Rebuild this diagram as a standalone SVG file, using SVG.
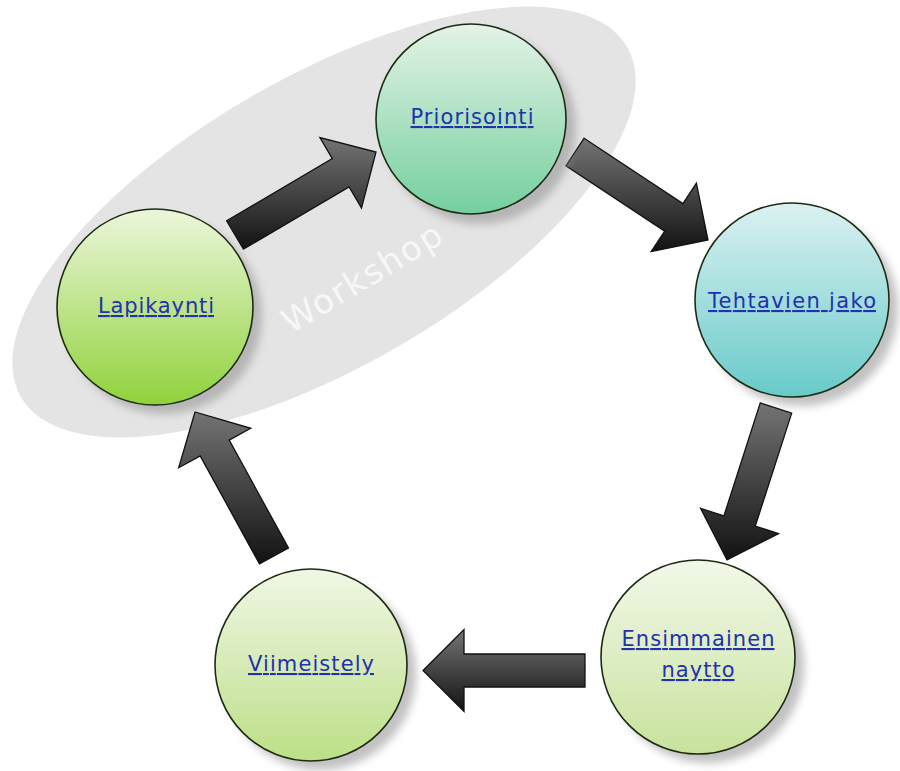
<svg xmlns="http://www.w3.org/2000/svg" width="900" height="771" viewBox="0 0 900 771">
<defs>
<style>
.node{stroke:#1d2a12;stroke-width:1.6}
.lbl{font-family:"DejaVu Sans","Liberation Sans",sans-serif;font-size:21px;fill:#2232ad;text-decoration:underline;text-anchor:middle}
.arrow{fill:url(#ga);stroke:#111;stroke-width:1.3;stroke-linejoin:miter}
.shadow{fill:#8f8f8f;opacity:0.55;filter:url(#blur)}
</style>
<filter id="blur" x="-20%" y="-20%" width="140%" height="140%"><feGaussianBlur stdDeviation="4.5"/></filter>
<linearGradient id="ga" x1="0" y1="0" x2="0" y2="1"><stop offset="0" stop-color="#747474"/><stop offset="1" stop-color="#121212"/></linearGradient>
<linearGradient id="g1" x1="0" y1="0" x2="0" y2="1"><stop offset="0" stop-color="#e4f3e6"/><stop offset="1" stop-color="#74cf9e"/></linearGradient>
<linearGradient id="g2" x1="0" y1="0" x2="0" y2="1"><stop offset="0" stop-color="#dcf1f1"/><stop offset="1" stop-color="#68caca"/></linearGradient>
<linearGradient id="g3" x1="0" y1="0" x2="0" y2="1"><stop offset="0" stop-color="#ecf6dc"/><stop offset="1" stop-color="#8fd23a"/></linearGradient>
<linearGradient id="g4" x1="0" y1="0" x2="0" y2="1"><stop offset="0" stop-color="#f0f7e6"/><stop offset="1" stop-color="#bcdf86"/></linearGradient>
<linearGradient id="g5" x1="0" y1="0" x2="0" y2="1"><stop offset="0" stop-color="#f2f8ea"/><stop offset="1" stop-color="#c8e29c"/></linearGradient>
</defs>
<rect width="900" height="771" fill="#ffffff"/>
<g id="workshop">
<ellipse cx="324" cy="222" rx="350" ry="145" transform="rotate(-30 324 222)" fill="#e4e4e4"/>
<text transform="translate(368 288) rotate(-31)" x="0" y="0" font-family="DejaVu Sans,Liberation Sans,sans-serif" font-size="34" fill="#f7f7f7" text-anchor="middle" textLength="180" lengthAdjust="spacing">Workshop</text>
</g>
<g id="connectors">
<polygon class="arrow" points="226.6,220.8 332.3,158.6 319.9,137.5 376,152 361.5,208.1 349.1,187.0 243.4,249.2"/>
<polygon class="arrow" points="584.1,138.2 682.9,203.6 696.4,183.2 708,240 651.2,251.6 664.7,231.2 565.9,165.8"/>
<polygon class="arrow" points="791.7,413.1 755.3,526.1 778.6,533.6 727,560 700.6,508.4 723.9,515.9 760.3,402.9"/>
<polygon class="arrow" points="585,654 464,654 464,629.5 423,670.5 464,711.5 464,687 585,687"/>
<polygon class="arrow" points="259.5,563.9 200.2,455.9 178.7,467.7 195,412 250.7,428.3 229.2,440.1 288.5,548.1"/>
</g>
<g id="priorisointi">
<circle class="shadow" cx="480" cy="128" r="96"/>
<circle class="node" cx="471" cy="119" r="95" fill="url(#g1)"/>
<text class="lbl" x="472" y="124" textLength="123" lengthAdjust="spacing">Priorisointi</text>
</g>
<g id="tehtavien">
<circle class="shadow" cx="801" cy="309" r="97"/>
<circle class="node" cx="792" cy="300" r="97" fill="url(#g2)"/>
<text class="lbl" x="792" y="308" textLength="168" lengthAdjust="spacing">Tehtavien jako</text>
</g>
<g id="lapikaynti">
<circle class="shadow" cx="164" cy="316" r="98"/>
<circle class="node" cx="155" cy="307" r="98" fill="url(#g3)"/>
<text class="lbl" x="156" y="313" textLength="116" lengthAdjust="spacing">Lapikaynti</text>
</g>
<g id="viimeistely">
<circle class="shadow" cx="320" cy="674" r="96"/>
<circle class="node" cx="311" cy="665" r="96" fill="url(#g4)"/>
<text class="lbl" x="311" y="671" textLength="126" lengthAdjust="spacing">Viimeistely</text>
</g>
<g id="ensimmainen">
<circle class="shadow" cx="707" cy="666" r="97"/>
<circle class="node" cx="698" cy="657" r="97" fill="url(#g5)"/>
<text class="lbl" x="698" y="646" textLength="153" lengthAdjust="spacing">Ensimmainen</text>
<text class="lbl" x="698" y="677" textLength="73" lengthAdjust="spacing">naytto</text>
</g>
</svg>
